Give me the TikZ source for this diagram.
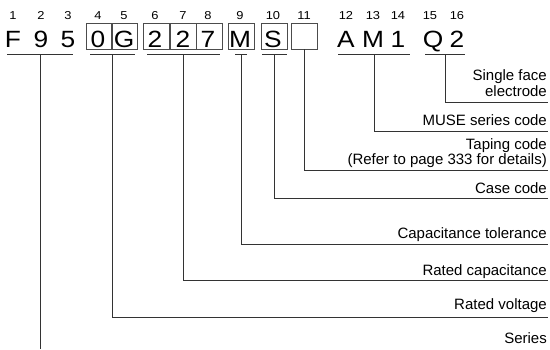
\documentclass[tikz,border=0pt]{standalone}
\usepackage{fontspec}
\setmainfont{Liberation Sans}
\newfontfamily\widefont[FakeStretch=1.12]{Liberation Sans}
\usetikzlibrary{positioning}

\begin{document}
\begin{tikzpicture}[x=1pt,y=-1pt,
  big/.style={font=\widefont\fontsize{23.5}{23.5}\selectfont,inner sep=0,anchor=base},
  idx/.style={font=\widefont\fontsize{11.5}{11.5}\selectfont,inner sep=0,anchor=base},
  cell/.style={draw=black!70,line width=0.8pt,minimum width=26pt,minimum height=26pt,inner sep=0},
  lab/.style={font=\fontsize{15}{15}\selectfont,inner sep=0,anchor=base east},
  lead/.style={draw=black!80,line width=0.9pt}]
\useasboundingbox (0,0) rectangle (550,349);

% boxes for positions 4 to 11
\foreach \x/\i in {99/4,124/5,156.5/6,183/7,209.5/8,241.5/9,274.5/10,304.5/11}{%
  \node[cell] (b\i) at (\x,36) {};}
% code characters and their position numbers
\foreach \x/\c/\i in {13/F/1,41/9/2,68/5/3,98/0/4,124/G/5,155/2/6,183/2/7,208/7/8,240/M/9,273/S/10,346/A/12,373/M/13,398/1/14,433/Q/15,457/2/16}{%
  \node[big] (c\i) at (\x,47) {\c};}
\foreach \x/\i in {13/1,41/2,68/3,98/4,124/5,155/6,183/7,208/8,240/9,273/10,304/11,346/12,373/13,398/14,430/15,457/16}{%
  \node[idx] (n\i) at (\x,19.5) {\i};}

% underlines
\foreach \k/\m/\w in {1/40/33,4/112.5/22.5,6/183.5/36.5,9/241/6,10/274.5/12.5,13/374/36,15/445/20}{%
  \coordinate (u\k) at (\m,54.3);
  \draw[lead] ([xshift=-\w pt]u\k) -- ([xshift=\w pt]u\k);}

% descriptions
\node[lab] (l15a) at (547,80) {Single face};
\node[lab] (l15b) at (547,96) {electrode};
\node[lab] (l13) at (547,125) {MUSE series code};
\node[lab] (l11a) at (547,149.5) {Taping code};
\node[lab] (l11b) at (547,164) {(Refer to page 333 for details)};
\node[lab] (l10) at (547,193) {Case code};
\node[lab] (l9) at (547,238.5) {Capacitance tolerance};
\node[lab] (l6) at (547,275) {Rated capacitance};
\node[lab] (l4) at (547,309) {Rated voltage};
\node[lab] (l1) at (547,343) {Series};

% leaders
\foreach \k/\y in {4/317,6/280,9/244,10/198,13/131,15/102}{%
  \coordinate (e\k) at (548,\y);
  \draw[lead] (u\k) |- (e\k);}
\coordinate (e11) at (548,170);
\draw[lead] (b11.south) |- (e11);
\coordinate (e1) at (40,349);
\draw[lead] (u1) -- (e1);
\end{tikzpicture}
\end{document}
